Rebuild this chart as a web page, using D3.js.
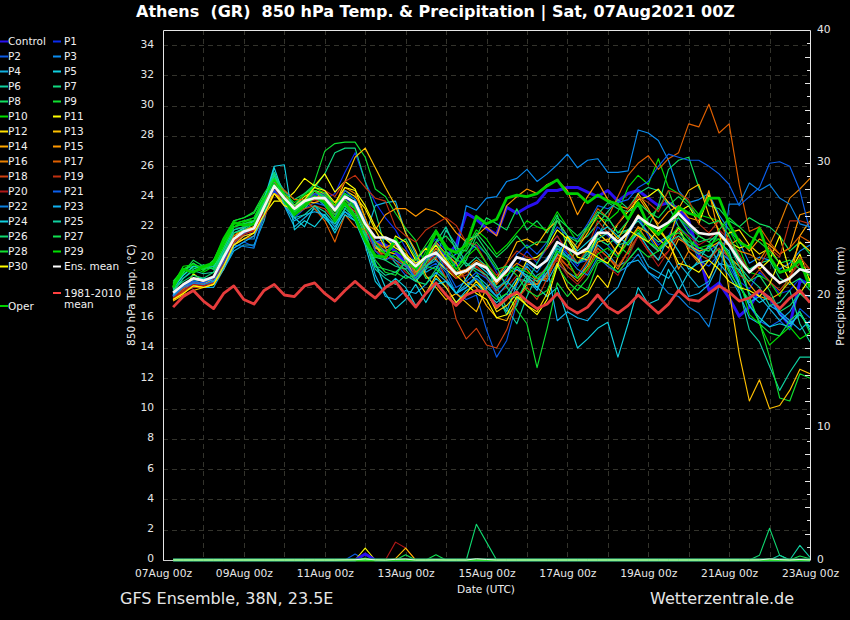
<!DOCTYPE html>
<html><head><meta charset="utf-8">
<script src="https://cdn.jsdelivr.net/npm/d3@7"></script>
<style>html,body{margin:0;padding:0;background:#000}svg{display:block}text{font-family:"DejaVu Sans",sans-serif;white-space:pre}</style>
</head><body><svg id="c" width="850" height="620"></svg>
<script>
const control=[17.4,18,18.2,18.3,18.4,19.6,21,21.6,21.8,23.4,24.4,23.7,23,23.7,24,24.2,
23.2,24,23.4,22,21,20.8,20.4,19.6,19,20,20.9,20,20.8,22.9,22.5,21.9,
21.5,23.3,22.9,23.3,23.6,24.4,24.4,24.6,24.6,24.3,24,24.4,23.7,24.2,24.4,23.9,
23.4,23.6,23.2,22.4,20.2,17.8,18.3,17.3,16.1,16.7,17.8,17.3,16.3,15.5,18.4,18.3];
const oper=[18,19.2,19,19.4,19.6,21.2,22.3,22.1,22.2,23.2,24.8,23.8,22.8,23.4,24,23.6,
22.4,23.6,22.6,21.1,20.1,20,21.2,20,19.3,20,21.7,20.6,20.3,20.8,22.7,22.2,
22.5,23.9,24.1,24,24.2,24.7,25.1,24.2,24.2,23.6,24.1,23.7,23.5,22.5,23.6,22.1,
21.5,22.2,23.3,22.9,22.7,23.9,23.9,22.2,21,20.6,21.9,20,19,19.2,19.8,18];
const ensMean=[17.65,18.2,18.6,18.45,18.7,20,21.2,21.7,21.9,23.3,24.7,23.9,23.2,23.7,23.9,23.9,
23.1,24,23.6,22.2,21.3,21.3,21,20,19.4,20,20.3,19.6,18.9,19.1,19.6,19.3,
18.4,19.1,20,19.8,19.3,19.8,21,20.6,20.2,20.6,21.6,21.6,21,21.6,22.7,22.2,
21.9,22.3,22.9,22.2,21.6,21.5,21.6,20.8,19.8,19,19.6,18.9,18.3,18.6,19.2,19];
const climate=[16.7,17.4,17.8,17.1,16.6,17.6,18.1,17.2,16.9,17.8,18.2,17.5,17.4,18.1,18.3,17.6,
17.1,17.8,18.4,17.8,17.3,18,18.4,17.5,16.7,17.6,18.3,17.5,16.8,17.5,17.8,17.7,
16.7,17.3,17.7,17.1,16.6,16.9,17.6,16.7,16.3,16.7,17.5,16.7,16.3,16.8,17.5,16.9,
16.3,16.9,17.8,17.2,17.1,17.6,18.1,17.7,17.1,17.3,17.8,17.3,16.6,17.3,17.8,17];
const P1=[17.5,18,18.3,18.2,18.4,19.6,21,21.4,21.6,23.1,24.6,23.9,22.9,23.6,24.2,23.8,
24.2,25.6,26.9,25,23.6,22.6,21.8,20.6,19.6,20.6,21.2,20.4,19.4,20.2,20.8,20.2,
19,18.2,19.4,20.4,19.6,20.6,21.4,20.2,19.4,20.4,22,21.4,20.8,21.8,22.6,21.6,
20.8,21.4,22.6,21.8,20.6,20.4,20.9,19.8,18.4,17.9,19,18.4,17.6,17.8,18.6,18.2];
const P2=[17.3,17.8,18,18.2,18.2,19.2,20.6,21,20.7,22.8,24.4,23.4,22.6,23.2,23.6,23.4,
22.6,23.8,23.2,21.6,20.6,20.4,19.6,18.8,18.4,19.2,19.6,18.6,17.6,17.2,17.5,15.2,
13.4,14.5,17,18.4,18.2,19.4,20.8,20.2,19.6,19.8,21.2,20.8,20,21.4,22.6,21.4,
20.4,21,22,21.4,19.8,19.4,20.2,19.4,18.2,16.8,15.8,15.4,15.8,15.2,16.6,16];
const P3=[17.6,18.1,18.5,18.6,18.6,19.4,20.8,21.2,21.2,23.6,25.4,24.4,23.4,23.8,24,23.6,
22.8,23.6,23.2,22,21,21.2,20.8,19.8,19.4,19.8,20.4,19.8,20.2,23.4,23.1,23.9,
24,25,25.2,25.8,25,25.5,26.1,26.8,25.9,26.4,26.5,25.6,25.6,25.7,28.4,28.2,
27.7,26.4,24.4,23.6,23.8,24.2,22.8,21.8,21,19.6,20,19.8,19.2,19.6,20.4,20.8];
const P4=[17.2,17.8,18.2,18,18,19.2,20.4,20.8,20.8,22.4,25,23.4,22,22.6,23.2,22.6,
22.2,23,22.4,21.4,23.4,23.6,23.7,21.6,20.2,19,19.4,18.6,17.6,18.2,18.6,18,
17.4,16.4,18.2,19.4,18.6,18.4,19.6,19,18.6,19.6,20.8,20.2,19.4,19.8,20.6,19.4,
19,18.6,19.6,18.8,18,18.4,20.4,19.8,18.2,17,17.4,16.6,15.8,16.4,17.6,17.4];
const P5=[17.4,17.9,18.4,18.5,18.3,19.4,21,21.6,21.9,23.5,25.9,24,22.6,22,23.4,22.6,
21.8,23.2,23.8,21.6,19.6,18,18.6,18,16.8,17.6,18.6,18,17,17.8,18.2,17.6,
17,17.6,18.6,18.4,18,17.4,18,16,14,14.6,15.3,15.7,13.4,15.6,18,16.9,
17.2,19.2,17.8,19,19.8,20.8,19.6,19.4,19.2,17.6,17,17.4,16.2,15.6,16.2,15.4];
const P6=[17.8,18.6,19.1,18.9,19,20.4,21.8,22,22.2,23.6,25.2,24.2,23.2,23.2,24,23.4,
22.6,23.4,23,21.4,19.4,18.8,19,19.6,18.4,19.2,21,22,20.4,19.4,20,19.4,
18,16.6,15.6,17.4,18.8,19.2,20.4,20,19.6,20.2,21.4,22.6,21.6,21.8,22.4,21.6,
21,21.4,21.8,20.8,20.4,20,20.6,19.2,17.8,15.2,14.4,12.8,11.2,12.4,13.4,13.4];
const P7=[18,18.8,19.4,19.2,19.3,20.6,22,22.2,22.4,23.8,25.6,24.2,23.4,24.2,24.6,25.5,
26.9,27.2,27.2,25,23,20.6,19.6,19.2,20,19.4,19.8,19.2,19.6,21,20.6,19.6,
17.6,16.2,16.8,18.6,18.2,18.8,20.6,20,21,21.4,22.2,23,23.8,23.2,24.2,24.6,
24.4,23.4,22,20.6,21.4,21,21.6,21,20,19.2,19.6,19.8,18.6,18.2,18.6,17.8];
const P8=[18.2,19,19.6,19.2,19.6,21,22.2,22.4,22.6,24,25.2,24.4,23.8,24.2,24.8,24.4,
23.4,24.2,23.8,22.4,20.8,20.2,20.8,21.2,20,18.6,18.8,20,19,19.8,21.4,22.6,
22.2,21.8,23.2,21.8,22.4,21.6,22.8,20.6,19.6,20.4,21.2,20.8,21.4,21.8,22.6,22,
23.4,25.8,26.4,26.6,24.6,23.4,23.2,22.4,22,22.6,22.2,22,21.4,20.4,21,20.2];
const P9=[18.4,19.2,19.4,19.2,19.8,21,22.4,22.6,22.9,24,25,23.8,23,23.4,25,27,
27.5,27.6,27.6,26.6,24.5,24,22.9,21.9,21.1,19.4,19.2,18.6,19.8,19.6,19,17.8,
17.2,17.6,16.5,15.6,12.7,15.3,18.3,17.4,18.2,17.8,19.6,20,20.8,20.2,21.4,22.6,
23.2,24.4,22.6,22,21.4,21,20.4,19,18,17.2,15.7,13.4,10.7,10.5,12.3,12];
const P10=[18,18.9,19.3,19,19.4,20.8,22.2,22.4,22.4,23.9,25.4,24,23.1,23.7,24.4,24,
23.2,24.2,23.4,21.9,20.6,20.2,20.4,20,19,20.4,21.8,20.8,19.8,20.6,21.8,21.2,
20.2,20.8,21.6,22.4,22,21.8,23,22,21,21.8,22.6,22.4,23,24.6,25.4,24.8,
26.5,24.6,24.2,23.6,22.8,22.6,22.4,21.8,20.6,19,18.8,18.4,17.4,18.8,19.6,19.2];
const P11=[17.2,17.8,18.9,18.4,18.6,19.8,21.2,21.6,21.8,22.8,23.7,23.7,24.3,25.2,24.7,25.5,
24.3,25,24.5,22.6,20.8,19.8,21.4,21,19.8,20.6,19.8,19.2,18.6,19.2,18.4,17.6,
16.6,17.2,18.4,19.8,20,20.6,21.8,21.2,20,19.8,21.6,21,22.2,23,23.8,24,
24.5,23.6,23,23.4,22.2,24.1,22.6,21,20.6,20.8,19.2,19.8,21.4,19,20.2,18.4];
const P12=[17.4,17.9,18.4,18.2,18.6,20,21.4,21.8,22,23.4,24.2,23.6,23.4,24,24.4,24.2,
23.4,24.4,24,23.2,21.8,20.6,21,19.8,18.6,17.6,18.8,18,17,17.6,18.4,17.8,
16.4,16.8,17.6,16.8,16.4,17.6,19.6,18,17.2,17.6,18.8,18,20,21.6,22.8,22,
21.2,20.6,22,20.4,19.8,18.6,20,21.6,21.8,20.8,20.2,20.6,19.6,19.2,21,20.4];
const P13=[17.1,17.5,17.8,18,18.2,19.2,20.8,21.4,21.6,23.2,24.8,24,23.4,23.6,23.6,23.8,
23.4,25,26.6,27.2,25.9,24.6,23.4,21.6,20.4,18.8,18,17.2,17.6,17,16.4,18,
18.6,19.6,21,21.2,20.8,21.8,22.4,21.4,20.6,21.6,22.8,22,21.2,22.4,24.2,23.2,
22,21,23.2,24.4,24.8,22.8,21.8,17.8,13.6,10.5,11.9,10,10.2,11.2,12.6,12.3];
const P14=[17.2,17.6,18.2,18,18.2,19.6,21,21.6,21.8,23.2,24.6,23.8,23.2,23.4,24.4,23.6,
22.6,24,23.6,21.8,20.6,20.4,20.2,19.4,18.8,20,21,20.2,19.6,18.4,18,16.8,
16,15.8,17.2,18.2,18.2,19,20.2,19.8,18.6,19.4,21,21.2,20.2,21,22,21.6,
20.6,19.8,21.2,20.8,20.4,20.6,21,20,19.4,18.2,17.4,17.2,17.6,18.4,21.4,22.4];
const P15=[17.5,18,18.4,18.2,18.4,19.8,21.2,21.8,22,23.2,24.2,23.8,23.4,23.6,23.8,24,
23,23.8,23.2,22.2,21.8,22.8,23.2,23.2,22.7,23.2,23,22.5,21.6,21,21.4,22,
21.4,23.4,24,24.5,24.2,24.8,25.1,24.4,22.8,24,25,23.8,23.4,23.2,24,23,
22.2,23,23.4,22.6,22.4,24.4,21.4,20.8,21.2,20.4,21.2,20.8,20.2,20.6,22.8,23];
const P16=[17.4,18,18.6,18.4,18.6,19.8,21,21.6,22,23.4,25,24.2,23.2,23.8,24,24,
23.2,24.6,24.2,22.6,21,20.6,21,20.4,19,19.6,20.6,19.8,19,19.2,19.8,19.4,
18.2,19,19.6,19.2,18.4,18.6,20,19,18.4,19.2,20.6,20,19.2,20.4,22,21,
20.4,21.2,19.2,20.4,19.6,19.8,21,20.8,20.4,20.2,19.8,20.8,22.2,23.9,24.5,25.2];
const P17=[17.3,17.7,18.2,18.3,18.6,20,21.4,22,22.4,23.6,24.9,24.4,23.8,23.8,23.2,22.4,
21,22.8,22,21.8,21,20.4,20.8,20.2,18.8,19.4,20.4,19.6,18.6,19,19.4,18.8,
17.8,18.4,19.2,18.6,18.2,18.8,20.2,19.4,20.6,22,23.2,22.6,24,25.4,26.2,26.7,
25.8,26.5,26.9,28.8,28.6,30.1,28.2,28.8,24.8,21.7,22,21,20.2,20.6,21.4,21];
const P18=[17.2,17.7,18,18,18.3,19.4,20.8,21.2,21.4,22.6,24.2,23.4,22.8,23.2,23.4,23.2,
22.4,23.6,23,22,20.4,20.2,20,19.4,18.8,19.4,20,18.6,15.9,14.6,15.3,14.2,
14,15.2,17.2,18,17.2,18.6,20,19.4,18.8,19.8,20.6,20,19.4,20.4,21.4,20.4,
19.8,20.4,21.4,20.6,20.2,19.8,20.6,20,18.8,18.4,19.2,18.4,17.8,18.6,20,19.2];
const P19=[17.4,17.9,18.4,18.1,18.4,19.8,21,21.5,21.8,23.1,24.8,23.6,23,23.6,24.2,24.4,
24,25,25.4,24.6,23.9,23.7,22,21.4,21,21.8,22.2,22.6,22.1,21,20.8,19.6,
18.8,19.6,20.4,20,19.8,20.6,21.4,20.4,19.6,20.6,22.4,21.6,22.2,23.2,24,23.6,
23,24.4,24.2,23.8,22.2,21.6,22.4,21,19.6,19,19.4,20.6,20,22.4,22.4,22.2];
const P20=[17.3,17.8,18.2,18.1,18.5,19.6,21.1,21.6,21.7,23,24.6,23.6,23,23.4,23.8,23.6,
22.8,23.8,23.2,22,20.4,20,19.8,19,18.6,19.4,20.2,19.4,18.6,18.8,19.4,18.6,
17.6,18,18.8,18.2,18.6,19.4,19.8,18.8,18.2,19,20.4,19.4,18.8,20,21.4,20.4,
19.4,20.4,21.8,21.4,20.8,21.2,21.8,21.2,20.2,19,19.6,19,18.2,18.8,19.6,19.2];
const P21=[17.5,18.1,18.4,18.3,18.6,19.7,21.2,21.6,21.9,23.2,24.9,23.8,23,23.6,24.2,24,
23.2,24.4,23.8,22.4,20.4,19.8,20.2,19.6,18.6,19.8,20.2,19.2,18,18.4,19,18.6,
17.8,18.6,20.2,20.8,20.2,21,22,21.4,21.2,22.2,23.4,23.2,23.6,23.8,24.6,25,
26,26.8,26.6,26.4,26.4,26,25.5,24.8,23.4,24,24.6,26.2,26.3,26,24.4,21.7];
const P22=[17.4,18,18.3,18.2,18.4,19.4,20.8,20.7,20.6,22.8,25.2,24,22.8,23.6,24,23.4,
22.6,24.2,23.4,22,20.8,20.4,19.8,19.4,18.6,19.4,19.8,19,17.6,18,18.6,17.8,
16.8,17.4,18.2,19.6,19,20,20.6,20,19.2,18.8,20,19.4,19,19.4,20.2,19,
18.4,17.6,17.4,16.7,16.3,15.4,18.1,23.5,23.5,24.9,24.4,24.8,23.9,23.5,22.2,22];
const P23=[17.5,18.2,18.6,18.6,18.4,19.2,20.6,21,21.4,22.8,25.6,23.4,22.4,22.8,23,22.8,
22,23,22.6,21.2,18.8,17.4,17.2,17.8,17.6,18.2,19,18.4,17.6,18,18.8,18.2,
17.4,18.2,19.4,18.6,17.8,19.4,15.8,16.4,16,15.8,16.6,17.4,18,19.6,19.8,19,
18.6,19.8,18.8,17.4,17.6,18.2,19.6,18.8,17.6,16,15.6,16.8,16.4,15.8,15.2,15.8];
const P24=[17.9,18.8,19.4,19.4,19.4,20.2,21.6,21.9,22.4,23.8,26,26.1,21.8,22.4,22,22.8,
21.6,22.8,22.4,20.8,18.4,17.6,16.6,17.2,18.2,17,18.2,18.4,17.6,18.6,19.6,19,
18.4,19.4,19.2,18.8,18,19,20.2,21.2,20.4,21,21.6,22,21.4,20.8,21.6,20.6,
19.8,21.4,20.4,19.2,19.6,19.8,21,20.4,18.2,16.8,16,15.4,15.6,15.4,16.4,15.2];
const P25=[17.7,18.6,19.2,19.5,19.2,20.4,21.8,22,22.2,23.6,25.4,23.6,22.6,22.8,23.4,23,
22.2,23.2,22.6,21,19.2,18.6,18.2,18.8,18.4,19.4,20,21.8,20.8,19.6,19.2,18.8,
18,18.4,17.8,18.8,18.4,19.4,20.8,20,19.6,20,21.2,21.6,20.8,21,21.6,21,
20.4,21,21.4,20.8,20.2,20.6,21.6,20.8,19.4,18.6,18,16.8,17,17.8,15.6,14.4];
const P26=[17.9,18.4,18.8,18.6,19,20.2,21.6,21.8,22.2,23.6,25.6,23.8,23,23.6,24,23.6,
22.6,23.4,22.6,21,20,19.8,19.4,19.2,18.4,18.2,19.2,20.4,19.8,21.2,21.4,20.4,
19.4,18,17.2,18.4,19.6,20.8,22.4,21.4,21,22,22.8,23.6,23.2,23,23.4,22.2,
21.6,22.2,22.6,21.6,21,21.2,21.2,20.2,19,18.4,18.8,17.8,16.4,16.8,17.6,17];
const P27=[18.1,19,19.8,19.4,19.2,20.6,22,22.2,22.4,23.8,25.2,24,23.4,23.8,24.4,24,
23,23.6,22.8,21,19.4,19.2,19,18.6,18.8,19.6,21,21.4,20.6,20.4,21.6,20.8,
20,20.6,21.4,20.6,21,21,22.6,22,21.4,22,23,22.6,21.6,22.4,23.6,23,
22.6,23.4,24,23.4,22.6,22.2,22.4,21.4,20,17.4,15.6,15,14.8,15.8,16.4,15];
const P28=[18.3,19.2,19.6,19.1,19.8,21.2,22.4,22.6,23,24.2,25.2,24,23,23.6,24.4,23.8,
22.8,23.8,23.2,21.6,19.8,19,18.8,19.8,19.8,20.8,21.8,20.4,19.2,20.2,21,20.2,
19.2,19.4,18.8,17.8,17.4,17.8,19.4,18.4,17.8,18.6,19.8,19.6,19,19.8,20.6,20,
20.4,21.4,21.6,21,20.6,20.4,21.8,22.6,22,21.4,21,20.4,19.6,19.8,19.2,18.8];
const P29=[18.2,19.4,19.5,19.3,19.5,20.8,22,22.3,22.6,23.8,25.1,24.2,23.6,24.1,24.6,24.2,
23.4,24.2,23.2,22,21,20.2,20,19.6,19.2,20,20.8,20.2,19.2,20,20.6,19.6,
18.6,18.8,19.4,19,18.6,19.2,20.4,19.8,18.6,19.2,20.2,20.6,20,21,21.8,21,
20.6,21.2,22,21.2,20.6,20.8,21.2,20,18.6,16.2,15.6,14.2,14.8,15.4,14.6,15];
const P30=[17.2,17.6,18.1,18,18.2,19.4,20.8,21.2,21.6,22.8,24.2,23.4,23.2,23.8,24.6,24.4,
23.6,24.6,24.4,23.4,22,21.2,20.6,20.2,19.6,20,20.8,19.8,18.8,18.2,17.6,17.2,
16,16.2,17.4,16.8,16.2,17.2,19.4,21.4,20.2,20.4,20,19.6,20.8,21.8,21.4,21,
21.8,21,19.6,19.4,19,19.8,19.2,18.4,18,17.8,17.4,18.2,19.8,18.4,17.6,18.6];

const memberNames=["P1","P2","P3","P4","P5","P6","P7","P8","P9","P10","P11","P12","P13","P14","P15","P16","P17","P18","P19","P20","P21","P22","P23","P24","P25","P26","P27","P28","P29","P30"];
const memberValues=[P1,P2,P3,P4,P5,P6,P7,P8,P9,P10,P11,P12,P13,P14,P15,P16,P17,P18,P19,P20,P21,P22,P23,P24,P25,P26,P27,P28,P29,P30];
const memberColors=["#0a2cf0","#0a5ae6","#0a8cf0","#10b0e0","#10d0e0","#10d0a0","#10d880","#10e060","#10e030","#00e000","#ffff00","#ffe000","#ffc000","#ffa800","#ff9800","#e88000","#e06000","#d04010","#c03010","#b01818","#0a60f0","#0a80e0","#10b0f0","#10d0e0","#10d0a0","#10d870","#10e050","#10e030","#00e000","#ffff00"];

// rain in mm, only the members that show any
const rainCalm=[0,0,0,0,0,0,0,0,0,0,0,0,0,0,0,0,0,0,0,0,0,0,0,0,0,0,0,0,0,0,0,0,0,0,0,0,0,0,0,0,0,0,0,0,0,0,0,0,0,0,0,0,0,0,0,0,0,0,0,0,0,0,0,0];
const rainP2 =[0,0,0,0,0,0,0,0,0,0,0,0,0,0,0,0,0,0,0.45,0,0,0,0,0,0,0,0,0,0,0,0,0,0,0,0,0,0,0,0,0,0,0,0,0,0,0,0,0,0,0,0,0,0,0,0,0,0,0,0,0,0,0,0,0];
const rainP11=[0,0,0,0,0,0,0,0,0,0,0,0,0,0,0,0,0,0,0,0.9,0,0,0,0,0,0,0,0,0,0,0,0,0,0,0,0,0,0,0,0,0,0,0,0,0,0,0,0,0,0,0,0,0,0,0,0,0,0,0,0,0,0,0,0];
const rainP13=[0,0,0,0,0,0,0,0,0,0,0,0,0,0,0,0,0,0,0,0,0,0,0.1,0.9,0,0,0,0,0,0,0,0,0,0,0,0,0,0,0,0,0,0,0,0,0,0,0,0,0,0,0,0,0,0,0,0,0,0,0,0,0,0];
const rainP20=[0,0,0,0,0,0,0,0,0,0,0,0,0,0,0,0,0,0,0,0,0,0,1.35,0.9,0,0,0,0,0,0,0,0,0,0,0,0,0,0,0,0,0,0,0,0,0,0,0,0,0,0,0,0,0,0,0,0,0,0,0,0,0,0];
const rainP26=[0,0,0,0,0,0,0,0,0,0,0,0,0,0,0,0,0,0,0,0,0,0,0,0,0,0,0,0,0,0,2.7,1.35,0,0,0,0,0,0,0,0,0,0,0,0,0,0,0,0,0,0,0,0,0,0,0,0,0,0,0.35,2.4,0.35,0,0,0];
const rainP25=[0,0,0,0,0,0,0,0,0,0,0,0,0,0,0,0,0,0,0,0,0,0,0,0,0,0,0,0,0,0,0,0,0,0,0,0,0,0,0,0,0,0,0,0,0,0,0,0,0,0,0,0,0,0,0,0,0,0,0,0,0.35,0,1.1,0.2];
const rainP27=[0,0,0,0,0,0,0,0,0,0,0,0,0,0,0,0,0,0,0,0.15,0,0,0,0.4,0,0,0.4,0,0,0,0,0,0,0,0,0,0,0,0,0,0,0,0,0,0,0,0,0,0,0,0,0,0,0,0,0,0,0,0,0,0,0,0.3,0.1];
const rainControl=[0,0,0,0,0,0,0,0,0,0,0,0,0,0,0,0,0,0,0,0.45,0,0,0,0,0,0,0,0,0,0,0,0,0,0,0,0,0,0,0,0,0,0,0,0,0,0,0,0,0,0,0,0,0,0,0,0,0,0,0,0,0,0,0,0];
const rainMean=[0,0,0,0,0,0,0,0,0,0,0,0,0,0,0,0,0,0.01,0.02,0.08,0.01,0,0.05,0.07,0,0,0.01,0,0,0,0.09,0.04,0,0,0,0,0,0,0,0,0,0,0,0,0,0,0,0,0,0,0,0,0,0,0,0,0,0,0.01,0.08,0.03,0,0.04,0.01];

const rainMembers=[[rainP2,"#0a5ae6"],[rainP20,"#b01818"],[rainP26,"#10d870"],[rainP25,"#10d0a0"],[rainP27,"#10e050"],[rainP13,"#ffc000"],[rainP11,"#ffff00"]];

const tempTicks=[0,2,4,6,8,10,12,14,16,18,20,22,24,26,28,30,32,34];
const rainTicks=[0,10,20,30,40];
const title="Athens  (GR)  850 hPa Temp. & Precipitation | Sat, 07Aug2021 00Z";

const svg=d3.select("#c");
const L=163,R=810,T=30,B=560;
const startDate=Date.UTC(2021,7,7),endDate=Date.UTC(2021,7,23);
const x=d3.scaleUtc().domain([startDate,endDate]).range([L,R]);
const y=d3.scaleLinear().domain([0,35]).range([B,T]);
const yR=d3.scaleLinear().domain([0,40]).range([B,T]);
const timeOf=i=>new Date(startDate+(i+1)*6*3600e3);
const lineT=d3.line().x((d,i)=>x(timeOf(i))).y(d=>y(d));
const lineR=d3.line().x((d,i)=>x(timeOf(i))).y(d=>yR(d));

// grid
const days=d3.utcDay.range(new Date(startDate),new Date(endDate+1)).slice(1,-1);
svg.append("g").selectAll("line").data(days).join("line")
 .attr("x1",d=>Math.round(x(d))+.5).attr("x2",d=>Math.round(x(d))+.5).attr("y1",T).attr("y2",B)
 .attr("stroke","#33332c").attr("stroke-dasharray","5,4");
svg.append("g").selectAll("line").data(tempTicks.slice(1)).join("line")
 .attr("x1",L).attr("x2",R).attr("y1",d=>Math.round(y(d))+.5).attr("y2",d=>Math.round(y(d))+.5)
 .attr("stroke","#33332c").attr("stroke-dasharray","5,4");

// series
const plot=svg.append("g").attr("fill","none").attr("stroke-linejoin","round");
const draw=(vals,color,w,gen)=>plot.append("path").attr("d",gen(vals)).attr("stroke",color).attr("stroke-width",w);
draw(control,"#2a10f0",3,lineT);
memberValues.forEach((v,i)=>draw(v,memberColors[i],1.15,lineT));
draw(oper,"#00d000",2.8,lineT);
draw(ensMean,"#f4f4f4",2.6,lineT);
draw(climate,"#e63c3c",2.8,lineT);
rainMembers.forEach(r=>draw(r[0],r[1],1.1,lineR));
draw(rainControl,"#2a10f0",3,lineR);
draw(rainCalm,"#30e030",3,lineR);
draw(rainMean,"#e8f8e8",1,lineR);

// frame
svg.append("path").attr("d",`M${L+.5},${B}V${T+.5}H${R+.5}V${B+.5}`).attr("fill","none").attr("stroke","#e6e6e6");
svg.append("line").attr("x1",L).attr("x2",R).attr("y1",B+.5).attr("y2",B+.5).attr("stroke","#cfcfcf").lower();

// axes
const tickTxt=g=>{g.select(".domain").remove();g.selectAll("line").remove();g.selectAll("text").attr("fill","#e6e6e6").attr("font-size",10.7).attr("font-family","DejaVu Sans");};
svg.append("g").attr("transform",`translate(${L},-1.5)`).call(d3.axisLeft(y).tickValues(tempTicks).tickSize(0).tickPadding(9).tickFormat(d3.format("d"))).call(tickTxt);
svg.append("g").attr("transform",`translate(${R},-1)`).call(d3.axisRight(yR).tickValues(rainTicks).tickSize(0).tickPadding(7).tickFormat(d3.format("d"))).call(tickTxt);
svg.append("g").attr("transform",`translate(0,${B})`).call(d3.axisBottom(x).tickValues(d3.utcDay.range(new Date(startDate),new Date(endDate+1),2)).tickSize(0).tickPadding(9).tickFormat(d3.utcFormat("%dAug %Hz"))).call(tickTxt);
const minor=d3.range(1,40);
svg.append("g").selectAll("line").data(minor).join("line")
 .attr("x1",d=>R-(d%2?3:5)).attr("x2",R).attr("y1",d=>Math.round(yR(d))+.5).attr("y2",d=>Math.round(yR(d))+.5).attr("stroke","#e6e6e6");

// text
const txt=(s,px,py,size,o={})=>svg.append("text").text(s).attr("x",px).attr("y",py).attr("font-size",size).attr("fill",o.fill||"#f0f0f0").attr("text-anchor",o.anchor||"start").attr("font-weight",o.weight||"normal").attr("transform",o.rot?`rotate(-90 ${px} ${py})`:null);
txt(title,435.5,17,16,{anchor:"middle",weight:"bold",fill:"#fff"});
txt("850 hPa Temp. (°C)",135,295,10.6,{anchor:"middle",rot:true});
txt("Precipitation (mm)",844,296,10.7,{anchor:"middle",rot:true});
txt("Date (UTC)",486,593,10.6,{anchor:"middle"});
txt("GFS Ensemble, 38N, 23.5E",120,604,16,{fill:"#e6e6e6"});
txt("Wetterzentrale.de",650,604,16,{fill:"#e6e6e6"});

// legend
const legendNames=["Control"].concat(memberNames,["Ens. mean"]);
const legendColors=["#2a10f0"].concat(memberColors,["#ffffff"]);
const leg=svg.append("g");
legendNames.forEach((n,i)=>{
  const col=i%2,row=Math.floor(i/2);
  const ly=41.5+row*15,lx=col?53:0;
  leg.append("line").attr("x1",lx).attr("x2",lx+8).attr("y1",ly).attr("y2",ly).attr("stroke",legendColors[i]).attr("stroke-width",2);
  leg.append("text").text(n).attr("x",col?64:8).attr("y",ly+3.5).attr("font-size",10.5).attr("fill","#f0f0f0");
});
leg.append("line").attr("x1",53).attr("x2",61).attr("y1",293).attr("y2",293).attr("stroke","#ff4040").attr("stroke-width",2);
leg.append("text").text("1981-2010").attr("x",64).attr("y",297).attr("font-size",10.5).attr("fill","#f0f0f0");
leg.append("text").text("mean").attr("x",64).attr("y",308).attr("font-size",10.5).attr("fill","#f0f0f0");
leg.append("line").attr("x1",0).attr("x2",8).attr("y1",306).attr("y2",306).attr("stroke","#00d000").attr("stroke-width",2);
leg.append("text").text("Oper").attr("x",8).attr("y",309.5).attr("font-size",10.5).attr("fill","#f0f0f0");
</script></body></html>
